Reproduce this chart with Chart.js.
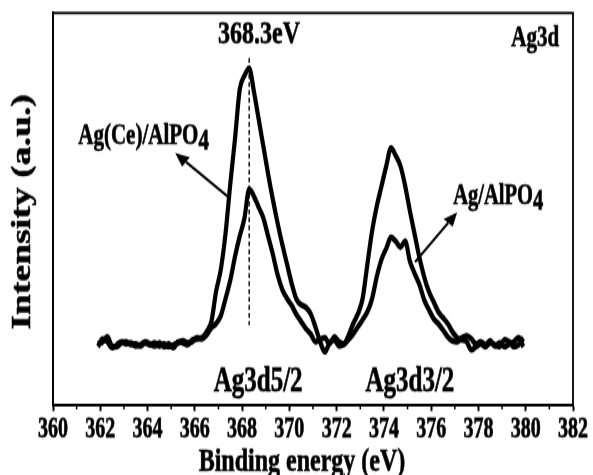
<!DOCTYPE html>
<html>
<head>
<meta charset="utf-8">
<script src="https://cdn.jsdelivr.net/npm/chart.js@4.4.0/dist/chart.umd.min.js"></script>
<style>
  html, body { margin: 0; padding: 0; background: #fff; }
</style>
</head>
<body>
<!-- the original figure is stretched vertically, so the canvas is drawn short and scaled up -->
<canvas id="xps" width="593" height="340" style="width:593px;height:475px;display:block"></canvas>
<script>
// Binding energy (eV)
const energy = [
  361.9, 362.1, 362.3, 362.5, 362.7, 362.9, 363.1, 363.3, 363.5, 363.7,
  363.9, 364.1, 364.3, 364.5, 364.7, 364.9, 365.1, 365.3, 365.5, 365.7,
  365.9, 366.1, 366.3, 366.5, 366.7, 366.9, 367.1, 367.3, 367.5, 367.7,
  367.9, 368.1, 368.3, 368.5, 368.7, 368.9, 369.1, 369.3, 369.5, 369.7,
  369.9, 370.1, 370.3, 370.5, 370.7, 370.9, 371.1, 371.3, 371.5, 371.7,
  371.9, 372.1, 372.3, 372.5, 372.7, 372.9, 373.1, 373.3, 373.5, 373.7,
  373.9, 374.1, 374.3, 374.5, 374.7, 374.9, 375.1, 375.3, 375.5, 375.7,
  375.9, 376.1, 376.3, 376.5, 376.7, 376.9, 377.1, 377.3, 377.5, 377.7,
  377.9, 378.1, 378.3, 378.5, 378.7, 378.9, 379.1, 379.3, 379.5, 379.7,
  379.9
];

// Intensity (a.u.) - Ag(Ce)/AlPO4 (taller curve)
const agCe = [
  14.9, 16.9, 16.2, 14.6, 15.4, 16.2, 15.6, 15.9, 15.1, 15.4,
  16.2, 15.6, 15.1, 15.9, 14.9, 15.6, 14.6, 16.2, 15.9, 15.4,
  16.7, 16.9, 17.2, 18.7, 21.3, 29.0, 34.6, 43.8, 56.4, 67.9,
  80.5, 84.0, 85.9, 80.0, 73.0, 66.0, 59.0, 52.5, 46.5, 41.0,
  36.0, 31.0, 27.0, 25.6, 24.9, 23.3, 20.0, 16.2, 13.6, 15.9,
  16.7, 15.1, 15.4, 17.7, 20.8, 23.3, 27.2, 35.9, 44.4, 50.8,
  55.9, 61.0, 65.6, 63.6, 61.0, 55.9, 49.5, 43.6, 37.7, 32.8,
  29.0, 26.4, 23.8, 22.3, 20.8, 18.7, 17.2, 16.7, 16.2, 14.1,
  14.9, 15.6, 14.9, 15.9, 15.4, 14.9, 16.7, 16.2, 14.9, 15.4,
  17.2
];

// Intensity (a.u.) - Ag/AlPO4
const ag = [
  15.6, 16.2, 17.4, 15.1, 14.9, 15.9, 16.2, 15.4, 15.6, 15.1,
  15.9, 15.4, 15.9, 15.1, 15.6, 14.9, 15.4, 15.9, 16.4, 15.9,
  16.2, 17.2, 16.9, 17.9, 19.7, 20.8, 22.8, 27.2, 31.8, 37.9,
  43.1, 47.7, 55.1, 53.3, 50.5, 47.7, 43.1, 38.5, 33.3, 29.5,
  27.2, 25.4, 23.1, 21.3, 19.5, 18.2, 16.2, 16.7, 17.2, 15.6,
  17.4, 16.2, 15.6, 16.7, 18.2, 20.0, 21.8, 23.8, 27.2, 32.8,
  37.2, 40.0, 42.8, 41.8, 40.3, 41.8, 36.7, 33.6, 30.8, 26.9,
  24.4, 22.1, 20.8, 19.2, 17.4, 16.4, 16.2, 17.2, 17.7, 16.9,
  15.6, 16.2, 15.4, 16.4, 15.1, 15.9, 14.9, 15.6, 16.2, 17.2,
  14.9
];

const majorTicks = [360, 362, 364, 366, 368, 370, 372, 374, 376, 378, 380, 382];
const minorTicks = [361, 363, 365, 367, 369, 371, 373, 375, 377, 379, 381];

const xTitle = 'Binding energy (eV)';
const yTitle = 'Intensity (a.u.)';

// annotations (data coordinates)
const peakLine = { x: 368.3, from: 20.4, to: 88.5 };
const notes = [
  { text: '368.3eV', x: 368.72, y: 94.4, size: 24, align: 'center' },
  { text: 'Ag3d', x: 380.4, y: 93.6, size: 21, align: 'center' },
  { text: 'Ag(Ce)/AlPO', sub: '4', x: 361.07, y: 68.4, size: 21, align: 'left' },
  { text: 'Ag/AlPO', sub: '4', x: 376.93, y: 53.1, size: 20.5, align: 'left' },
  { text: 'Ag3d5/2', x: 368.68, y: 5.8, size: 25, align: 'center' },
  { text: 'Ag3d3/2', x: 375.1, y: 5.8, size: 25, align: 'center' }
];
const arrows = [
  { from: [367.41, 53.1], to: [365.17, 64.3] },
  { from: [375.32, 36.5], to: [377.1, 49.2] }
];

const FONT = '"Liberation Serif", "Times New Roman", serif';
const K = 475 / 340; // vertical stretch of the canvas on screen

function boldText(ctx, str, px, py) {
  ctx.fillText(str, px, py);
  ctx.strokeText(str, px, py);
}

const overlay = {
  id: 'overlay',
  afterDraw(chart) {
    const { ctx, chartArea: a, scales: { x, y } } = chart;
    ctx.save();
    ctx.strokeStyle = '#000';
    ctx.fillStyle = '#000';

    // frame
    ctx.lineWidth = 1.8;
    ctx.strokeRect(a.left, a.top, a.right - a.left, a.bottom - a.top);

    // minor ticks
    ctx.lineWidth = 1.5;
    minorTicks.forEach(v => {
      const px = x.getPixelForValue(v);
      ctx.beginPath();
      ctx.moveTo(px, a.bottom);
      ctx.lineTo(px, a.bottom + 3);
      ctx.stroke();
    });

    // dashed peak line
    ctx.lineWidth = 1.4;
    ctx.setLineDash([3.5, 2.2]);
    ctx.beginPath();
    ctx.moveTo(x.getPixelForValue(peakLine.x), y.getPixelForValue(peakLine.to));
    ctx.lineTo(x.getPixelForValue(peakLine.x), y.getPixelForValue(peakLine.from));
    ctx.stroke();
    ctx.setLineDash([]);

    // arrows (head shape worked out in screen space)
    ctx.lineWidth = 2;
    arrows.forEach(ar => {
      const x0 = x.getPixelForValue(ar.from[0]), y0 = y.getPixelForValue(ar.from[1]);
      const x1 = x.getPixelForValue(ar.to[0]), y1 = y.getPixelForValue(ar.to[1]);
      const ang = Math.atan2((y1 - y0) * K, x1 - x0);
      const len = 14, half = 6;
      const bx = x1 - len * Math.cos(ang), by = y1 - len * Math.sin(ang) / K;
      ctx.beginPath();
      ctx.moveTo(x0, y0);
      ctx.lineTo(bx, by);
      ctx.stroke();
      ctx.beginPath();
      ctx.moveTo(x1, y1);
      ctx.lineTo(bx + half * Math.sin(ang), by - half * Math.cos(ang) / K);
      ctx.lineTo(bx - half * Math.sin(ang), by + half * Math.cos(ang) / K);
      ctx.closePath();
      ctx.fill();
    });

    // text labels
    ctx.lineWidth = 0.5;
    ctx.textBaseline = 'middle';
    notes.forEach(n => {
      const px = x.getPixelForValue(n.x), py = y.getPixelForValue(n.y);
      ctx.font = 'bold ' + n.size + 'px ' + FONT;
      ctx.textAlign = n.align;
      boldText(ctx, n.text, px, py);
      if (n.sub) {
        const w = ctx.measureText(n.text).width;
        ctx.textAlign = 'left';
        boldText(ctx, n.sub, px + w, py + 3.5);
      }
    });

    // axis titles
    ctx.textAlign = 'center';
    ctx.font = 'bold 24px ' + FONT;
    boldText(ctx, xTitle, (a.left + a.right) / 2 - 11, 462 / K);
    ctx.save();
    ctx.translate(23, (a.top + a.bottom) / 2 + 2);
    ctx.rotate(-Math.PI / 2);
    ctx.font = 'bold 27px ' + FONT;
    boldText(ctx, yTitle, 0, 0);
    ctx.restore();

    ctx.restore();
  }
};

new Chart(document.getElementById('xps'), {
  type: 'line',
  data: {
    datasets: [
      {
        label: 'Ag(Ce)/AlPO4',
        data: energy.map((e, i) => ({ x: e, y: agCe[i] })),
        borderColor: '#000',
        borderWidth: 4.2,
        pointRadius: 0,
        cubicInterpolationMode: 'monotone'
      },
      {
        label: 'Ag/AlPO4',
        data: energy.map((e, i) => ({ x: e, y: ag[i] })),
        borderColor: '#000',
        borderWidth: 4.2,
        pointRadius: 0,
        cubicInterpolationMode: 'monotone'
      }
    ]
  },
  options: {
    responsive: false,
    animation: false,
    layout: { padding: { top: 9.3, right: 20, left: 0, bottom: 0 } },
    plugins: {
      legend: { display: false },
      tooltip: { enabled: false }
    },
    scales: {
      x: {
        type: 'linear',
        min: 360,
        max: 382,
        afterBuildTicks: s => { s.ticks = majorTicks.map(v => ({ value: v })); },
        afterFit: s => { s.height = 50; },
        ticks: {
          color: '#000',
          padding: 2,
          textStrokeColor: '#000',
          textStrokeWidth: 0.5,
          font: { family: FONT, size: 20, weight: 'bold' }
        },
        grid: {
          drawOnChartArea: false,
          tickLength: 4.3,
          tickWidth: 2,
          tickColor: '#000'
        },
        border: { color: '#000', width: 1.8 }
      },
      y: {
        min: 0,
        max: 100,
        afterFit: s => { s.width = 53; },
        ticks: { display: false },
        grid: { display: false },
        border: { color: '#000', width: 1.8 }
      }
    }
  },
  plugins: [overlay]
});
</script>
</body>
</html>
